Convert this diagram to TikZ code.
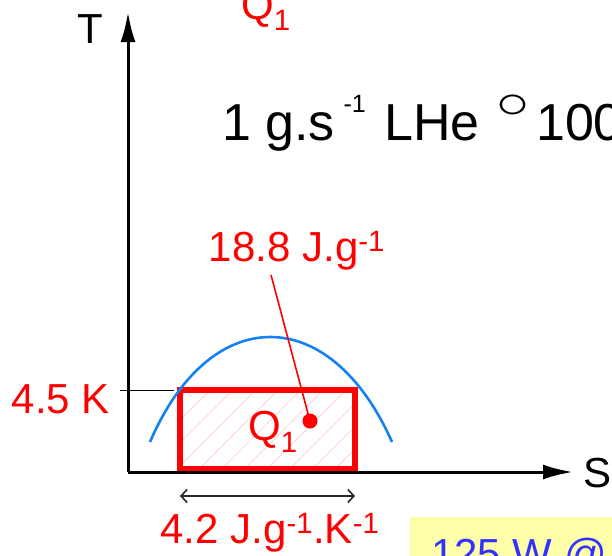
\documentclass[tikz,border=0pt]{standalone}
\usepackage{fontspec}
\usepackage{graphicx}
\setmainfont{Liberation Sans}
\usetikzlibrary{arrows.meta,positioning,calc,patterns.meta}
\definecolor{curveblue}{RGB}{20,130,240}
\definecolor{noteyellow}{RGB}{255,255,170}
\definecolor{noteblue}{RGB}{50,50,255}
\newcommand{\supr}[1]{\raisebox{28pt}{\fontsize{25}{27}\selectfont #1}}

\begin{document}
\begin{tikzpicture}[
    x=1pt, y=-1pt,
    axis/.style={line width=3pt, -{Latex[length=30pt,width=15pt]}},
    big/.style={font=\fontsize{42}{48}\selectfont},
    huge/.style={font=\fontsize{52}{58}\selectfont},
    hot/.style={big, text=red, inner sep=0pt},
    dome/.style={curveblue, line width=2.6pt},
    box/.style={
        draw=red,
        line width=5.5pt,
        outer sep=0pt,
        minimum width=175pt,
        minimum height=79pt,
        pattern={Lines[angle=45,distance=16pt,line width=0.7pt]},
        pattern color=red!20
    },
    guide/.style={black, line width=1pt},
    dim/.style={black!85, line width=1.2pt, {Straight Barb[length=6pt,width=13pt,line width=1.6pt]}-{Straight Barb[length=6pt,width=13pt,line width=1.6pt]}},
    lead/.style={red, line width=1.6pt}
]
\useasboundingbox (0,0) rectangle (612,555);
\clip (0,0) rectangle (612,555);

% Cycle box and saturation dome
\node[box] (cycle) at (267.5,429.5) {};
\draw[dome] (150,442) .. controls (210,302) and (330,302) .. (392,442);
\node[hot] (q) at (273,432) {Q\textsubscript{1}};

% Axes
\coordinate (o) at (128,472);
\coordinate (ytop) at (128,12);
\coordinate (xend) at (573,472);
\draw[axis] (o) -- (ytop);
\draw[axis] (o) -- (xend);
\node[big, anchor=base] (tlbl) at (90,43) {T};
\node[big, anchor=base west, inner sep=0pt] (slbl) at (583,487) {S};

% Temperature level
\draw[guide] ([xshift=-60pt]cycle.north west) -- ([xshift=-6pt]cycle.north west);
\node[hot, anchor=base east] (temp) at (110,413) {4.5 K};

% Latent heat
\node[hot, anchor=base] (heat) at (297,261) {18.8 J.g\textsuperscript{-1}};
\node[circle, fill=red, inner sep=0pt, minimum size=15pt] (dot) at (310,421) {};
\draw[lead] ([xshift=-26pt,yshift=-5pt]heat.south) -- (dot.center);

% Entropy width
\draw[dim] ([yshift=-27pt]cycle.south west) -- ([yshift=-27pt]cycle.south east);
\node[hot, anchor=base] (dent) at (270,543) {4.2 J.g\textsuperscript{-1}.K\textsuperscript{-1}};

% Top texts (cut off)
\node[hot, anchor=base west] (qtop) at (241,19) {Q\textsubscript{1}};
\node[huge, anchor=base west, inner sep=0pt] (flow) at (222,140)
    {1 g.s\,\supr{-1}\hspace{4pt} LHe\hspace{1pt} \raisebox{22pt}{\scalebox{1}[0.78]{\fontsize{58}{60}\selectfont ○}}\hspace{6pt}100};

% Note (cut off)
\node[fill=noteyellow, anchor=north west, minimum width=220pt, minimum height=60pt, inner sep=0pt] (note) at (410,517) {};
\node[big, text=noteblue, anchor=base west, inner sep=0pt] (power) at (431,568) {125 W @};
\end{tikzpicture}
\end{document}
